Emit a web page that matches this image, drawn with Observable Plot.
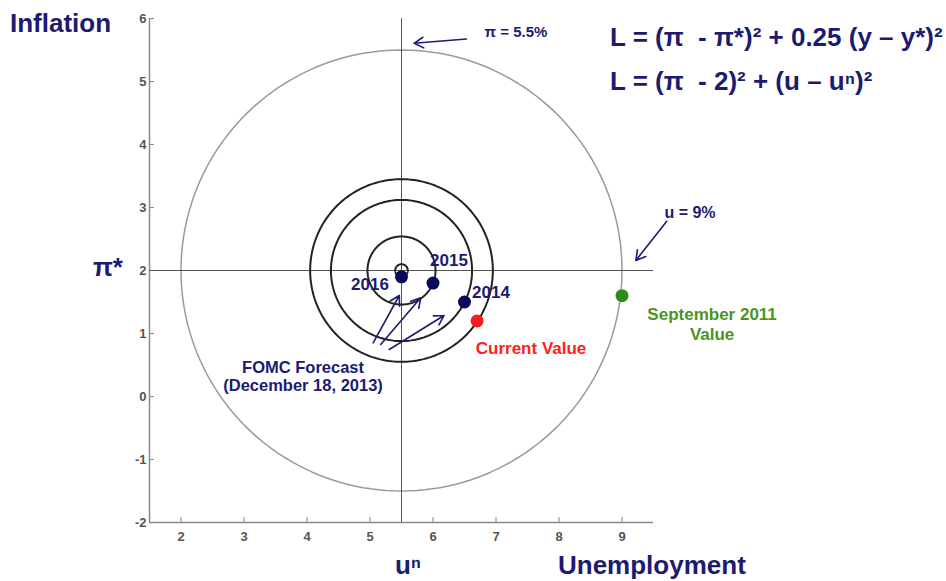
<!DOCTYPE html>
<html><head><meta charset="utf-8">
<script src="https://cdn.jsdelivr.net/npm/d3@7"></script>
<script src="https://cdn.jsdelivr.net/npm/@observablehq/plot@0.6"></script>
<style>html,body{margin:0;padding:0;background:#fff}</style>
</head><body><div id="chart"></div>
<script>
// ---- data ----
const targetU = [5.5];          // u^n
const targetPi = [2];           // pi*
const grayRadii = [3.5];        // loss contour through u = 9%, pi = 5.5%
const blackRadii = [0.1, 0.54, 1.12, 1.45];
const forecastYears = ["2014", "2015", "2016"];
const forecastU = [6.5, 6.0, 5.5];
const forecastPi = [1.5, 1.8, 1.9];
const currentU = [6.7];
const currentPi = [1.2];
const sept2011U = [9.0];
const sept2011Pi = [1.6];
const xTicks = [2, 3, 4, 5, 6, 7, 8, 9];
const yTicks = [-2, -1, 0, 1, 2, 3, 4, 5, 6];

// ---- derived ----
const angles = d3.range(0, 361, 2);
const circle = (r, i) => angles.map(a => ({
  ring: i, x: targetU[0] + r * Math.cos(a * Math.PI / 180), y: targetPi[0] + r * Math.sin(a * Math.PI / 180)
}));
const grayPts = grayRadii.flatMap(circle);
const blackPts = blackRadii.flatMap(circle);
const forecast = forecastYears.map((yr, i) => ({year: yr, x: forecastU[i], y: forecastPi[i]}));

const NAVY = "#1d1b70";
const FONT = "Liberation Sans, Arial, Helvetica, sans-serif";
const fmt = d => String(d);

const chart = Plot.plot({
  width: 946, height: 581,
  marginLeft: 149, marginRight: 293, marginTop: 18, marginBottom: 59,
  x: {domain: [1.5, 9.5]},
  y: {domain: [-2, 6]},
  style: {fontFamily: FONT, background: "#fff"},
  marks: [
    Plot.axisX(xTicks, {tickSize: -5, tickPadding: 14, tickFormat: fmt, stroke: "#888", fill: "#555", fontWeight: "bold", fontSize: 13, label: null}),
    Plot.axisY(yTicks, {tickSize: -5, tickPadding: 8, tickFormat: fmt, stroke: "#888", fill: "#555", fontWeight: "bold", fontSize: 13, label: null}),
    Plot.ruleX([1.5], {y1: -2, y2: 6, stroke: "#8a8a8a", strokeWidth: 1.5}),
    Plot.ruleY([-2], {x1: 1.5, x2: 9.5, stroke: "#8a8a8a", strokeWidth: 1.5}),
    Plot.line(grayPts, {x: "x", y: "y", z: "ring", stroke: "#9a9a9a", strokeWidth: 1.5}),
    Plot.ruleX(targetU, {y1: -2, y2: 6, stroke: "#555", strokeWidth: 1}),
    Plot.ruleY(targetPi, {x1: 1.5, x2: 9.5, stroke: "#555", strokeWidth: 1}),
    Plot.line(blackPts, {x: "x", y: "y", z: "ring", stroke: "#222", strokeWidth: 2}),
    // arrows
    Plot.arrow([
      {x1: 6.53, y1: 5.675, x2: 5.70, y2: 5.606},
      {x1: 9.71, y1: 2.78, x2: 9.22, y2: 2.16},
      {x1: 5.05, y1: 0.852, x2: 5.465, y2: 1.603},
      {x1: 5.17, y1: 0.825, x2: 5.805, y2: 1.567},
      {x1: 5.306, y1: 0.746, x2: 6.175, y2: 1.286}
    ], {x1: "x1", y1: "y1", x2: "x2", y2: "y2", stroke: NAVY, strokeWidth: 1.6, headLength: 10}),
    // dots
    Plot.dot(forecast, {x: "x", y: "y", r: 6.5, fill: "#0a0a5a"}),
    Plot.dot(currentU.map((u, i) => ({x: u, y: currentPi[i]})), {x: "x", y: "y", r: 6.5, fill: "#f41c1c"}),
    Plot.dot(sept2011U.map((u, i) => ({x: u, y: sept2011Pi[i]})), {x: "x", y: "y", r: 6.5, fill: "#2f8c1c"}),
    // labels
    Plot.text(["2016"], {x: 5.0, y: 1.778, fill: NAVY, fontWeight: "bold", fontSize: 17}),
    Plot.text(["2015"], {x: 6.254, y: 2.159, fill: NAVY, fontWeight: "bold", fontSize: 17}),
    Plot.text(["2014"], {x: 6.921, y: 1.651, fill: NAVY, fontWeight: "bold", fontSize: 17}),
    Plot.text(["Current Value"], {x: 7.556, y: 0.762, fill: "#ff2020", fontWeight: "bold", fontSize: 17}),
    Plot.text(["September 2011\nValue"], {x: 10.43, y: 1.159, fill: "#4a9421", fontWeight: "bold", fontSize: 17, lineHeight: 1.18}),
    Plot.text(["FOMC Forecast\n(December 18, 2013)"], {x: 3.937, y: 0.325, fill: NAVY, fontWeight: "bold", fontSize: 16.5, lineHeight: 1.12}),
    Plot.text(["π = 5.5%"], {x: 7.317, y: 5.778, fill: NAVY, fontWeight: "bold", fontSize: 15}),
    Plot.text(["u = 9%"], {x: 10.079, y: 2.921, fill: NAVY, fontWeight: "bold", fontSize: 16}),
    Plot.text(["Inflation"], {x: -0.714, y: 5.92, textAnchor: "start", fill: NAVY, fontWeight: "bold", fontSize: 26}),
    Plot.text(["π*"], {x: 0.841, y: 2.048, fill: NAVY, fontWeight: "bold", fontSize: 26}),
    Plot.text(["uⁿ"], {x: 5.603, y: -2.683, fill: NAVY, fontWeight: "bold", fontSize: 26}),
    Plot.text(["Unemployment"], {x: 7.984, y: -2.683, textAnchor: "start", fill: NAVY, fontWeight: "bold", fontSize: 26}),
    Plot.text(["L = (π \u00a0- π*)² + 0.25 (y – y*)²"], {x: 8.81, y: 5.698, textAnchor: "start", fill: NAVY, fontWeight: "bold", fontSize: 26}),
    Plot.text(["L = (π \u00a0- 2)² + (u – uⁿ)²"], {x: 8.81, y: 5.0, textAnchor: "start", fill: NAVY, fontWeight: "bold", fontSize: 26})
  ]
});
document.getElementById("chart").appendChild(chart);
</script>
</body></html>
